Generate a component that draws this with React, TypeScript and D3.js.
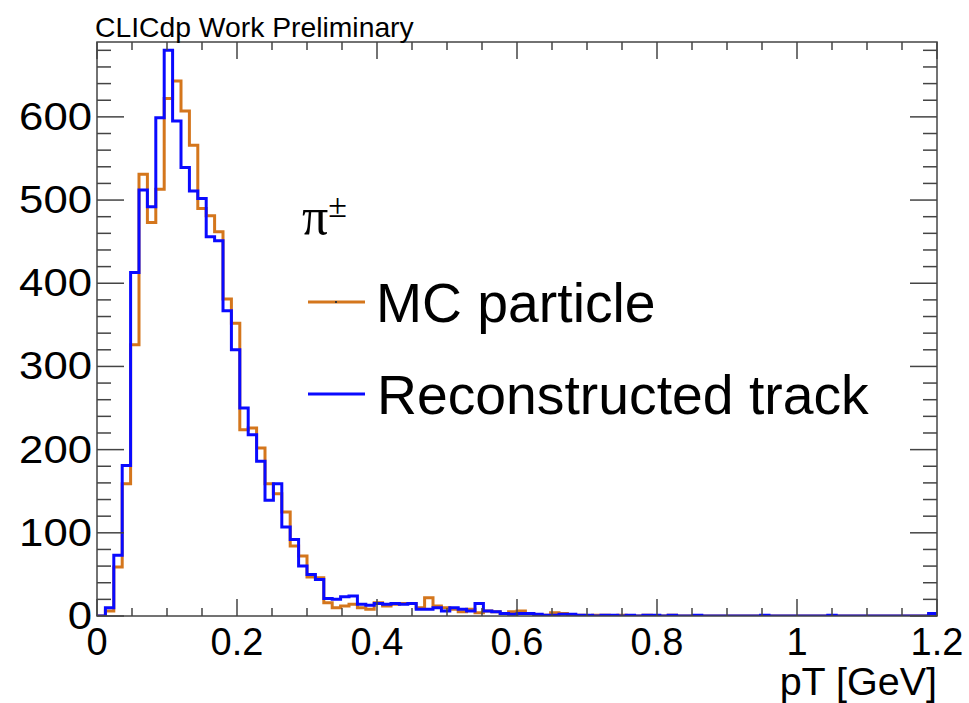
import React from "react";
import * as d3 from "d3";

const binLow = 0;
const binHigh = 1.2;
const nBins = 100;

const mcParticle = [
  0, 6, 59, 159, 326, 531, 473, 513, 622, 643,
  607, 566, 490, 481, 462, 381, 352, 224, 226, 202,
  159, 147, 125, 84, 72, 47, 46, 16, 10, 12,
  14, 10, 8, 16, 12, 14, 15, 15, 10, 22,
  12, 10, 8, 5, 8, 4, 6, 5, 3, 5,
  6, 3, 1, 1, 4, 3, 1, 1, 0, 1,
  1, 0, 1, 0, 0, 1, 0, 0, 1, 0,
  0, 0, 0, 0, 0, 0, 0, 0, 0, 0,
  0, 0, 0, 0, 0, 0, 0, 0, 0, 0,
  0, 0, 0, 0, 0, 0, 0, 0, 0, 2,
];

const recoTrack = [
  0, 10, 73, 181, 413, 512, 492, 599, 680, 595,
  539, 511, 502, 456, 451, 367, 320, 250, 218, 186,
  139, 159, 107, 92, 60, 50, 44, 21, 20, 23,
  24, 14, 13, 15, 14, 15, 14, 15, 8, 8,
  10, 6, 10, 8, 6, 15, 6, 5, 3, 2,
  3, 3, 2, 1, 1, 2, 2, 1, 1, 0,
  1, 1, 0, 1, 0, 1, 1, 0, 1, 0,
  0, 1, 0, 0, 0, 0, 0, 0, 0, 1,
  0, 0, 0, 0, 0, 0, 0, 1, 0, 0,
  0, 0, 0, 0, 0, 0, 0, 0, 0, 3,
];

const xTickValues = [0, 0.2, 0.4, 0.6, 0.8, 1.0, 1.2];
const xTickLabels = ["0", "0.2", "0.4", "0.6", "0.8", "1", "1.2"];
const yTickValues = [0, 100, 200, 300, 400, 500, 600];
const yTickLabels = ["0", "100", "200", "300", "400", "500", "600"];

const seriesNames = ["MC particle", "Reconstructed track"];
const seriesColors = ["#d4761c", "#0a0aff"];

const W = 969;
const H = 703;
const left = 97;
const right = 937;
const top = 42;
const bottom = 616;
const font = "'Liberation Sans', Arial, Helvetica, sans-serif";

export default function App() {
  const x = d3.scaleLinear().domain([binLow, binHigh]).range([left, right]);
  const y = d3.scaleLinear().domain([0, 690]).range([bottom, top]);
  const bw = (binHigh - binLow) / nBins;

  const stepPath = (vals: number[]) => {
    const pts: [number, number][] = [[x(binLow), y(0)]];
    vals.forEach((v, i) => {
      pts.push([x(binLow + i * bw), y(v)]);
      pts.push([x(binLow + (i + 1) * bw), y(v)]);
    });
    pts.push([x(binHigh), y(0)]);
    return d3.line()(pts) || "";
  };

  const xMinor = d3.range(0, 1.2001, 0.05);
  const yMinor = d3.range(0, 690, 20);
  const axisColor = "#444";

  return (
    <svg width={W} height={H} style={{ position: "absolute", left: 0, top: 0, background: "#fff" }}>
      <defs>
        <clipPath id="plotClip">
          <rect x={left} y={top - 2} width={right - left} height={bottom - top + 2} />
        </clipPath>
      </defs>
      <rect x={0} y={0} width={W} height={H} fill="#fff" />

      {/* histograms */}
      <g clipPath="url(#plotClip)">
        <path d={stepPath(mcParticle)} fill="none" stroke={seriesColors[0]} strokeWidth={3} />
        <path d={stepPath(recoTrack)} fill="none" stroke={seriesColors[1]} strokeWidth={3} />
      </g>

      {/* frame */}
      <rect x={left} y={top} width={right - left} height={bottom - top} fill="none" stroke={axisColor} strokeWidth={1.5} />

      {/* x ticks bottom & top */}
      {xMinor.map((v, i) => {
        const major = Math.abs(v / 0.2 - Math.round(v / 0.2)) < 1e-6;
        const len = major ? 17 : 8;
        return (
          <g key={"xt" + i}>
            <line x1={x(v)} x2={x(v)} y1={bottom} y2={bottom - len} stroke={axisColor} strokeWidth={1.5} />
            <line x1={x(v)} x2={x(v)} y1={top} y2={top + len} stroke={axisColor} strokeWidth={1.5} />
          </g>
        );
      })}

      {/* y ticks left & right */}
      {yMinor.map((v, i) => {
        const major = v % 100 === 0;
        const len = major ? 27 : 14;
        return (
          <g key={"yt" + i}>
            <line x1={left} x2={left + len} y1={y(v)} y2={y(v)} stroke={axisColor} strokeWidth={1.5} />
            <line x1={right} x2={right - len} y1={y(v)} y2={y(v)} stroke={axisColor} strokeWidth={1.5} />
          </g>
        );
      })}

      {/* x tick labels */}
      {xTickValues.map((v, i) => (
        <text key={"xl" + i} x={x(v)} y={655} textAnchor="middle" fontFamily={font} fontSize={38} fill="#000">
          {xTickLabels[i]}
        </text>
      ))}

      {/* y tick labels */}
      {yTickValues.map((v, i) => (
        <text
          key={"yl" + i}
          transform={`translate(92,${y(v) + 13}) scale(1.15,1)`}
          textAnchor="end"
          fontFamily={font}
          fontSize={38}
          fill="#000"
        >
          {yTickLabels[i]}
        </text>
      ))}

      {/* axis title */}
      <text x={937} y={695} textAnchor="end" fontFamily={font} fontSize={39.5} fill="#000">
        pT [GeV]
      </text>

      {/* header */}
      <text x={95} y={37} fontFamily={font} fontSize={28.3} fill="#000">
        CLICdp Work Preliminary
      </text>

      {/* legend */}
      <text x={302} y={234} fontFamily="'Liberation Serif', 'Times New Roman', serif" fontSize={52} fill="#000">
        π<tspan dy={-17} fontSize={34}>±</tspan>
      </text>
      <line x1={308} x2={365} y1={302} y2={302} stroke={seriesColors[0]} strokeWidth={3} />
      <rect x={335} y={301} width={2} height={2} fill="#333" />
      <text x={376} y={322} fontFamily={font} fontSize={55.3} fill="#000">
        {seriesNames[0]}
      </text>
      <line x1={308} x2={365} y1={394} y2={394} stroke={seriesColors[1]} strokeWidth={3} />
      <text x={377} y={414} fontFamily={font} fontSize={55.3} fill="#000">
        {seriesNames[1]}
      </text>
    </svg>
  );
}
